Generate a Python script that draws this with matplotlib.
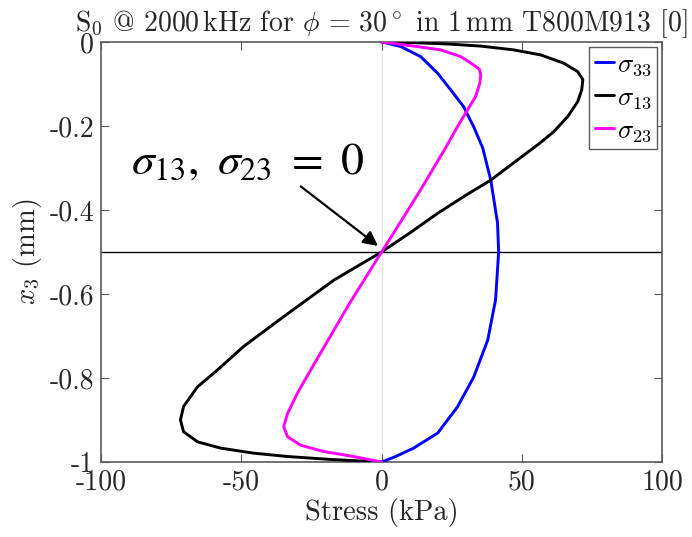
import matplotlib
matplotlib.use("Agg")
import matplotlib.pyplot as plt

plt.rcParams['font.family'] = 'serif'
plt.rcParams['font.serif'] = ['cmr10']
plt.rcParams['mathtext.fontset'] = 'cm'
plt.rcParams['axes.unicode_minus'] = False
plt.rcParams['axes.formatter.use_mathtext'] = True

# sigma_33 (blue)
s33_x = [0, 6.8, 13.9, 20.0, 24.6, 29.2, 32.8, 36.0, 38.9, 41.3, 41.7,
         40.6, 37.8, 32.8, 27.0, 20.0, 11.4, 5.0, 0]
s33_y = [0, -0.011, -0.035, -0.075, -0.114, -0.154, -0.202, -0.252, -0.329, -0.431, -0.50,
         -0.614, -0.71, -0.798, -0.869, -0.931, -0.967, -0.987, -1.0]

# sigma_13 (black)
s13_x = [0, 11.8, 23.5, 35.3, 47.0, 56.7, 65.0, 69.9, 71.7, 71.3, 69.9, 66.3, 61.3,
         56.0, 48.0, 38.9, 30.0, 20.0, 10.0, 0,
         -17.0, -34.9, -49.2, -58.5, -65.6, -70.6, -71.7, -70.6, -65.6, -57.4,
         -45.6, -33.5, -18.2, 0]
s13_y = [0, -0.002, -0.005, -0.01, -0.019, -0.031, -0.051, -0.071, -0.09, -0.114, -0.142, -0.178, -0.214,
         -0.243, -0.283, -0.329, -0.365, -0.408, -0.455, -0.5,
         -0.567, -0.654, -0.725, -0.781, -0.821, -0.868, -0.9, -0.928, -0.952, -0.967,
         -0.979, -0.987, -0.994, -1.0]

# sigma_23 (magenta)
s23_x = [0, 11.4, 21.0, 28.2, 32.8, 34.8, 35.3, 35.0, 33.5, 30.6, 27.0, 22.8, 13.9, 7.0, 0,
         -11.4, -25.3, -30.0, -33.5, -34.9, -33.5, -28.9, -20.7, -10.0, 0]
s23_y = [0, -0.01, -0.019, -0.035, -0.055, -0.065, -0.078, -0.098, -0.13, -0.162, -0.202, -0.252, -0.352, -0.426, -0.5,
         -0.622, -0.781, -0.836, -0.884, -0.916, -0.94, -0.96, -0.975, -0.987, -1.0]

x_ticks = [-100, -50, 0, 50, 100]
x_ticklabels = ['-100', '-50', '0', '50', '100']
y_ticks = [-1, -0.8, -0.6, -0.4, -0.2, 0]
y_ticklabels = ['-1', '-0.8', '-0.6', '-0.4', '-0.2', '0']
zero_line_y = -0.5

fig = plt.figure(figsize=(6.92, 5.37), dpi=100)
ax = fig.add_axes([0.146, 0.1397, 0.811, 0.7823])

ax.axvline(0, color='#e6e6e6', lw=0.8, zorder=1)
ax.axhline(zero_line_y, color='black', lw=1.0, zorder=2)

kw = dict(lw=2.1, solid_joinstyle='round', solid_capstyle='round', zorder=3)
ax.plot(s33_x, s33_y, color='#0000ff', label=r'$\sigma_{33}$', **kw)
ax.plot(s13_x, s13_y, color='black', label=r'$\sigma_{13}$', **kw)
ax.plot(s23_x, s23_y, color='#ff00ff', label=r'$\sigma_{23}$', **kw)

ax.set_xlim(-100, 100)
ax.set_ylim(-1, 0)
ax.set_xticks(x_ticks)
ax.set_xticklabels(x_ticklabels)
ax.set_yticks(y_ticks)
ax.set_yticklabels(y_ticklabels)

gray = '#262626'
for s in ax.spines.values():
    s.set_color('#5a5a5a')
    s.set_linewidth(1.2)
ax.tick_params(direction='in', length=6, width=0.8, color='#5a5a5a',
               top=True, right=True, labelsize=20, labelcolor=gray, pad=5)

ax.set_xlabel('Stress (kPa)', fontsize=20.5, color=gray, labelpad=2)
ax.set_ylabel(r'$x_3$ (mm)', fontsize=20.5, color=gray, labelpad=4)
ax.set_title(r'S$_0$ @ 2000$\,$kHz for $\phi$ = 30$^\circ$ in 1$\,$mm T800M913 [0]',
             fontsize=20, color=gray, pad=8)

leg = ax.legend(loc='upper right', fontsize=19, handlelength=0.75, handletextpad=0.1,
                borderpad=0.2, labelspacing=0.3, fancybox=False, framealpha=1,
                edgecolor='#5a5a5a', borderaxespad=0.2)
leg.get_frame().set_linewidth(1.0)

ax.annotate('', xy=(-0.5, -0.49), xytext=(-29.6, -0.34),
            arrowprops=dict(arrowstyle='-|>', color='black', lw=1.6, mutation_scale=22),
            zorder=5)
ax.text(-47.8, -0.286, r'$\sigma_{13},\ \sigma_{23}\ =\ 0$', fontsize=33,
        math_fontfamily='stix', ha='center', va='center', color='black')

fig.savefig('out.png', dpi=100)
